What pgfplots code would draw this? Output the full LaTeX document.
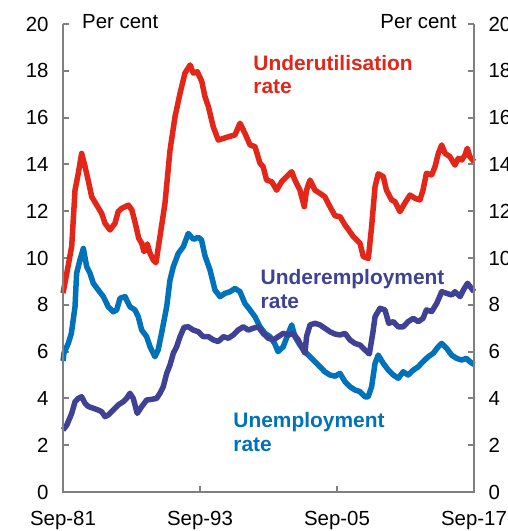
\documentclass[border=0pt]{standalone}
\usepackage{pgfplots}
\pgfplotsset{compat=1.18}
\usepackage{pgfplotstable}
\usepackage{fontspec}
\setmainfont{Liberation Sans}

\definecolor{unemp}{RGB}{0,114,188}
\definecolor{underemp}{RGB}{63,66,148}
\definecolor{underut}{RGB}{227,38,24}
\definecolor{axisgray}{RGB}{128,128,128}

\newcommand\tickfont{\fontsize{20.5}{24}\selectfont}
\newcommand\annfont{\fontsize{21}{24}\selectfont\bfseries}

% underutilisation rate
\pgfplotstableread{
x y
1981.67 8.5
1982.00 9.35
1982.43 10.5
1982.72 12.9
1983.00 13.6
1983.30 14.47
1983.60 13.9
1983.90 13.26
1984.18 12.62
1984.62 12.26
1985.06 11.9
1985.35 11.48
1985.78 11.2
1986.22 11.48
1986.50 11.98
1986.80 12.12
1987.10 12.19
1987.40 12.26
1987.70 12.05
1988.00 11.48
1988.30 10.84
1988.56 10.63
1988.76 10.27
1989.05 10.6
1989.29 10.2
1989.58 9.91
1989.81 9.8
1990.16 10.91
1990.60 12.34
1991.04 14.6
1991.48 16.04
1991.92 17.04
1992.35 17.9
1992.80 18.25
1993.08 17.9
1993.43 17.96
1993.82 17.55
1994.10 16.9
1994.40 16.47
1994.83 15.6
1995.27 15.04
1995.71 15.11
1996.15 15.18
1996.73 15.26
1997.17 15.76
1997.60 15.33
1998.05 14.83
1998.48 14.76
1998.92 14.05
1999.20 13.9
1999.50 13.33
1999.95 13.26
2000.38 12.9
2000.82 13.26
2001.26 13.48
2001.70 13.69
2001.98 13.33
2002.42 12.9
2002.80 12.19
2003.00 12.9
2003.30 13.33
2003.74 12.9
2004.18 12.76
2004.60 12.62
2005.05 12.19
2005.50 11.8
2005.93 11.77
2006.37 11.41
2006.80 11.12
2007.10 10.91
2007.39 10.77
2007.68 10.63
2007.97 10.06
2008.41 9.98
2008.70 11.34
2009.00 13.05
2009.28 13.6
2009.72 13.48
2010.00 12.9
2010.45 12.48
2010.74 12.41
2011.18 11.98
2011.60 12.34
2012.06 12.69
2012.50 12.55
2012.93 12.48
2013.20 12.9
2013.50 13.62
2013.96 13.55
2014.25 13.9
2014.54 14.47
2014.84 14.83
2015.13 14.47
2015.56 14.33
2016.00 13.97
2016.30 14.26
2016.60 14.19
2016.88 14.4
2017.08 14.69
2017.30 14.33
2017.67 14.12
}\underut

% unemployment rate
\pgfplotstableread{
x y
1981.67 5.6
1981.75 5.93
1982.13 6.35
1982.40 6.78
1982.72 7.92
1982.86 9.35
1983.15 9.91
1983.45 10.41
1983.74 9.63
1984.03 9.35
1984.32 8.92
1984.76 8.63
1985.20 8.35
1985.63 7.92
1986.07 7.7
1986.37 7.78
1986.66 8.28
1987.10 8.35
1987.53 7.92
1987.97 7.78
1988.26 7.49
1988.56 6.92
1988.99 6.64
1989.29 6.21
1989.72 5.78
1990.00 6.07
1990.30 6.78
1990.75 7.92
1991.04 9.06
1991.33 9.63
1991.77 10.2
1992.20 10.48
1992.64 11.05
1993.08 10.8
1993.52 10.88
1993.80 10.77
1994.10 10.1
1994.54 9.49
1994.98 8.63
1995.42 8.35
1995.86 8.49
1996.30 8.56
1996.73 8.7
1997.17 8.56
1997.60 8.06
1998.05 7.78
1998.48 7.49
1998.92 7.06
1999.36 6.78
1999.80 6.64
2000.20 6.35
2000.50 6.0
2000.96 6.21
2001.40 6.78
2001.70 7.14
2001.98 6.64
2002.42 6.28
2002.86 6.0
2003.30 5.78
2003.74 5.57
2004.18 5.35
2004.60 5.14
2005.05 5.0
2005.50 4.95
2005.93 5.07
2006.37 4.71
2006.80 4.5
2007.24 4.36
2007.68 4.29
2008.12 4.07
2008.40 4.07
2008.70 4.5
2009.00 5.5
2009.28 5.85
2009.72 5.5
2010.16 5.21
2010.60 5.0
2011.03 4.86
2011.47 5.14
2011.90 5.0
2012.35 5.21
2012.78 5.35
2013.20 5.57
2013.66 5.78
2014.10 5.93
2014.54 6.21
2014.84 6.35
2015.27 6.14
2015.71 5.85
2016.15 5.71
2016.58 5.64
2017.00 5.71
2017.30 5.57
2017.67 5.45
}\unemp

% underemployment rate
\pgfplotstableread{
x y
1981.67 2.65
1982.00 2.86
1982.43 3.36
1982.72 3.86
1983.00 4.0
1983.30 4.07
1983.60 3.79
1983.90 3.65
1984.32 3.58
1984.76 3.5
1985.06 3.43
1985.35 3.22
1985.63 3.29
1986.07 3.5
1986.50 3.72
1986.95 3.86
1987.24 4.0
1987.53 4.22
1987.82 4.0
1988.17 3.36
1988.56 3.65
1988.99 3.93
1989.43 3.96
1989.87 4.0
1990.16 4.22
1990.45 4.5
1990.75 5.07
1991.04 5.43
1991.33 5.93
1991.62 6.21
1991.92 6.64
1992.27 7.04
1992.64 7.06
1993.08 6.92
1993.52 6.85
1993.95 6.64
1994.40 6.64
1994.83 6.5
1995.27 6.43
1995.71 6.64
1996.15 6.57
1996.58 6.71
1997.00 6.92
1997.46 7.06
1997.90 6.92
1998.33 7.0
1998.77 7.06
1999.20 6.78
1999.65 6.57
2000.10 6.5
2000.52 6.64
2000.96 6.78
2001.40 6.71
2001.84 6.78
2002.27 6.5
2002.57 6.21
2002.86 5.93
2003.00 6.64
2003.30 7.14
2003.74 7.21
2004.18 7.14
2004.60 7.0
2005.05 6.85
2005.50 6.75
2005.93 6.71
2006.37 6.78
2006.80 6.5
2007.24 6.35
2007.68 6.28
2008.12 6.07
2008.50 5.9
2008.80 6.78
2009.00 7.49
2009.43 7.85
2009.87 7.78
2010.20 7.21
2010.60 7.28
2011.03 7.06
2011.47 7.06
2011.90 7.28
2012.35 7.42
2012.78 7.28
2013.20 7.42
2013.50 7.78
2013.96 7.71
2014.40 8.06
2014.84 8.56
2015.27 8.49
2015.71 8.42
2016.00 8.56
2016.45 8.35
2016.73 8.63
2017.10 8.92
2017.45 8.7
2017.67 8.56
}\underemp

\pgfplotsset{
  base/.style={
    at={(0,0)}, anchor=south west,
    scale only axis, width=411bp, height=468bp,
    xmin=1981.667, xmax=2017.667, ymin=0, ymax=20,
    ytick={0,2,...,20},
    axis line style={draw=none},
    tick align=inside,
    major tick length=6bp,
    tick style={draw=axisgray, line width=2bp},
    tick label style={font=\tickfont},
    /pgf/number format/assume math mode=true,
    clip=false,
  },
}

\begin{document}
\begin{tikzpicture}
\begin{axis}[base,
  xtick={1981.667,1993.667,2005.667,2017.667},
  xticklabels={Sep-81,Sep-93,Sep-05,Sep-17},
  xtick pos=lower, ytick pos=both,
  yticklabel pos=left,
  yticklabel style={xshift=-11bp},
  xticklabel style={yshift=-16bp},
]
\addplot[unemp, line width=5.5bp, line join=round] table[x=x, y=y] {\unemp};
\addplot[underemp, line width=5.5bp, line join=round] table[x=x, y=y] {\underemp};
\addplot[underut, line width=5.5bp, line join=round] table[x=x, y=y] {\underut};

\draw[axisgray, line width=2bp] (rel axis cs:0,1) -- (rel axis cs:0,0) -- (rel axis cs:1,0) -- (rel axis cs:1,1);

\node[anchor=base west, inner sep=0, font=\tickfont] at (axis cs:1983.33,19.79) {Per cent};
\node[anchor=base east, inner sep=0, font=\tickfont] at (axis cs:2016.15,19.79) {Per cent};

\node[anchor=base west, inner sep=0, font=\annfont, text=underut] at (axis cs:1998.33,18.03) {Underutilisation};
\node[anchor=base west, inner sep=0, font=\annfont, text=underut] at (axis cs:1998.33,17.03) {rate};
\node[anchor=base west, inner sep=0, font=\annfont, text=underemp] at (axis cs:1998.97,8.85) {Underemployment};
\node[anchor=base west, inner sep=0, font=\annfont, text=underemp] at (axis cs:1998.97,7.85) {rate};
\node[anchor=base west, inner sep=0, font=\annfont, text=unemp] at (axis cs:1996.58,2.74) {Unemployment};
\node[anchor=base west, inner sep=0, font=\annfont, text=unemp] at (axis cs:1996.58,1.74) {rate};
\end{axis}

\begin{axis}[base,
  hide x axis,
  yticklabel pos=right,
  ytick style={draw=none},
  yticklabel style={xshift=11bp},
]
\addplot[draw=none] coordinates {(1990,0)};
\end{axis}

\pgfresetboundingbox
\path[use as bounding box] (-63bp,-39bp) rectangle (445bp,492bp);
\end{tikzpicture}
\end{document}
